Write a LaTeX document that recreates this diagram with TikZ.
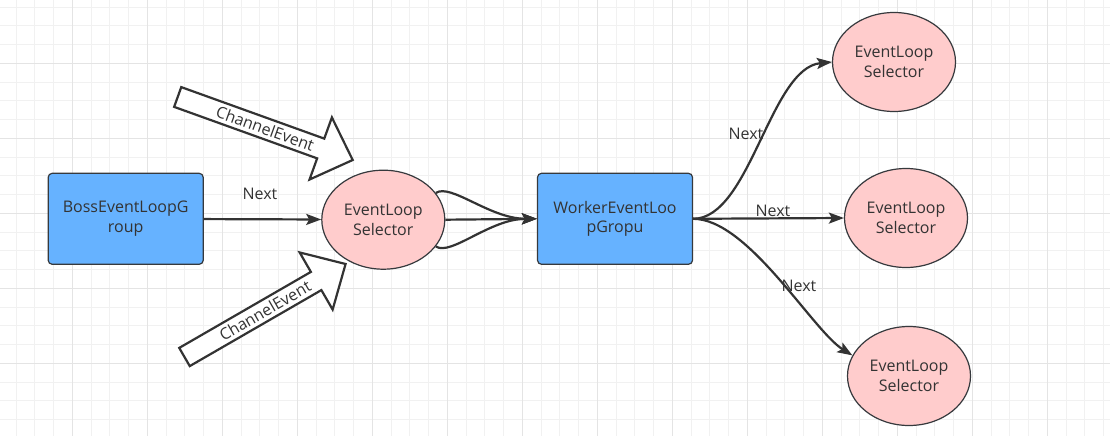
\documentclass[tikz,border=0pt]{standalone}
\usepackage{fontspec}
\setmainfont{Open Sans}
\usetikzlibrary{shapes.geometric,arrows.meta}
\definecolor{gridminor}{HTML}{F1F1F1}
\definecolor{gridmajor}{HTML}{E4E4E4}
\definecolor{boxblue}{HTML}{66B2FF}
\definecolor{nodepink}{HTML}{FFCCCC}
\definecolor{ink}{HTML}{333333}
\definecolor{outline}{HTML}{36393D}

\begin{document}
\begin{tikzpicture}[x=1pt,y=-1pt,
  every node/.style={font=\fontsize{16}{19.5}\selectfont, text=ink},
  groupbox/.style={draw=outline, line width=1.2pt, fill=boxblue, rounded corners=4pt,
    minimum width=155pt, minimum height=91pt, align=center, inner sep=0pt},
  selector/.style={ellipse, draw=outline, line width=1.2pt, fill=nodepink,
    minimum width=123pt, minimum height=99pt, align=center, inner sep=0pt},
  link/.style={draw=ink, line width=2.2pt, -{Stealth[length=15pt,width=11pt,inset=3pt]}},
  blockarrow/.style={draw=ink, line width=2.2pt, fill=white, line join=miter},
  minorline/.style={draw=gridminor, line width=1pt},
  majorline/.style={draw=gridmajor, line width=1.3pt}
]
% canvas and grid
\useasboundingbox (0,0) rectangle (1110,436);
\fill[white] (0,0) rectangle (1110,436);
\foreach \i in {0,...,58} \draw[minorline] ({16.1+18.75*\i},0) -- ++(0,436);
\foreach \j in {0,...,23} \draw[minorline] (0,{7.05+18.75*\j}) -- ++(1110,0);
\foreach \i in {0,...,13} \draw[majorline] ({72.35+75*\i},0) -- ++(0,436);
\foreach \j in {0,...,4} \draw[majorline] (0,{63.3+75*\j}) -- ++(1110,0);

% event groups and selectors
\node[groupbox] (boss) at (125.7,218.8) {BossEventLoopG\\roup};
\node[selector] (sel) at (383.3,219.7) {EventLoop\\Selector};
\node[groupbox] (wk) at (615,218.8) {WorkerEventLoo\\pGropu};
\node[selector] (t1) at (894,62) {EventLoop\\Selector};
\node[selector] (t2) at (906,218) {EventLoop\\Selector};
\node[selector] (t3) at (909,376) {EventLoop\\Selector};

% incoming channel events
\begin{scope}[shift={(177.7,97)}, rotate=-19.8]
  \draw[blockarrow] (0,-10.5) -- (152,-10.5) -- (152,-33) -- (186,0) -- (152,33) -- (152,10.5) -- (0,10.5) -- cycle;
  \node[rotate=-19.8] (ce1) at (93,0) {ChannelEvent};
\end{scope}
\begin{scope}[shift={(184.5,357)}, rotate=30]
  \draw[blockarrow] (0,-10.5) -- (152,-10.5) -- (152,-33) -- (186,0) -- (152,33) -- (152,10.5) -- (0,10.5) -- cycle;
  \node[rotate=30] (ce2) at (93,0) {ChannelEvent};
\end{scope}

% connectors
\draw[link] (boss) -- (sel);
\node (l1) at (260,194) {Next};
\draw[link] (sel.east) -- (wk.west);
\draw[link] (sel.27) .. controls +(15,-10) and +(-47,0) .. (wk.west);
\draw[link] (sel.-27) .. controls +(15,10) and +(-47,0) .. (wk.west);

\draw[link] (wk.east) .. controls +(57,0) and +(-62,6) .. (t1.west);
\node (l2) at (746,134) {Next};
\draw[link] (wk.east) -- (t2.west);
\node (l3) at (773,211) {Next};
\draw[link] (wk.east) .. controls +(55,0) and +(-40,-25) .. (t3.160);
\node (l4) at (799,286) {Next};
\end{tikzpicture}
\end{document}
